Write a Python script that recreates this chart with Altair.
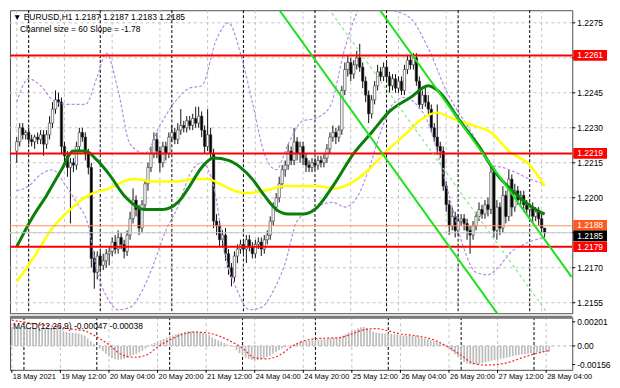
import altair as alt
import pandas as pd

# ---------------- data (prices in pips above 1.2000: 225 -> 1.2225) ----------------
first_open = 220
closes = [224, 230, 227, 228, 225, 224, 226, 225, 227, 223,
          227, 232, 238, 242, 241,
          222,
          218, 213, 215,
          214, 222, 228,
          226, 219, 213,
          174,
          168, 175, 171, 173, 176,
          177, 181, 178, 183, 180, 177, 184,
          191, 199, 195, 187,
          197, 206, 213, 219,
          225, 220, 215, 222, 219,
          226, 228, 225, 229, 231,
          230, 233, 231, 234, 232, 235,
          229, 222, 227, 219,
          190,
          188, 182, 184, 176, 170, 166,
          175, 178, 180, 178, 182, 179, 176, 180, 181, 178, 182, 184,
          190, 196, 200,
          206, 212, 214,
          220, 216, 224, 219, 222, 217, 214,
          213, 215, 214, 216, 215, 217,
          221, 226, 228, 226, 229,
          246,
          255, 258, 253, 257, 260, 256,
          250, 244, 236, 242,
          248, 254, 252, 256,
          252, 248, 251, 247, 250, 246,
          255, 259, 257, 260,
          250, 240, 244, 241, 238,
          230, 226, 222, 220,
          205, 197,
          188, 192, 186, 190, 191, 189,
          186, 184, 188,
          192, 195, 193, 197, 195,
          211, 186,
          196, 187, 201, 192, 208,
          196, 203, 199, 201,
          197, 195, 196, 192, 194, 191,
          187, 185]
upper_wick = [2, 2, 2, 1, 2, 2, 1, 2, 2, 2,
              2, 3, 3, 4, 3,
              2,
              2, 2, 2,
              2, 2, 2,
              2, 2, 2,
              2,
              3, 2, 2, 3, 2,
              2, 2, 3, 3, 2, 2, 2,
              3, 5, 2, 2,
              2, 2, 2, 3,
              3, 3, 2, 2, 2,
              2, 3, 2, 3, 7,
              2, 2, 2, 2, 5, 4,
              2, 2, 11, 3,
              2,
              3, 2, 2, 3, 2, 2,
              2, 2, 2, 2, 2, 2, 2, 2, 2, 2, 2, 2,
              2, 2, 2,
              3, 2, 2,
              3, 2, 6, 2, 2, 2, 2,
              2, 2, 2, 2, 2, 2,
              2, 2, 3, 2, 2,
              2,
              3, 3, 2, 2, 3, 6,
              2, 2, 2, 2,
              2, 3, 2, 2,
              2, 2, 2, 2, 2, 2,
              2, 2, 2, 2,
              2, 2, 2, 3, 3,
              2, 2, 14, 2,
              2, 2,
              2, 4, 2, 3, 2, 2,
              2, 2, 2,
              2, 3, 2, 2, 3,
              3, 2,
              3, 2, 4, 2, 4,
              2, 3, 2, 2,
              2, 2, 2, 2, 2, 2,
              2, 0]
lower_wick = [5, 2, 2, 2, 2, 2, 3, 2, 2, 5,
              2, 2, 2, 2, 2,
              3,
              4, 4, 24,
              3, 2, 2,
              2, 3, 3,
              4,
              7, 3, 3, 2, 3,
              5, 2, 2, 2, 2, 3, 2,
              2, 2, 3, 3,
              2, 2, 3, 2,
              2, 3, 4, 2, 3,
              2, 2, 2, 2, 2,
              2, 2, 2, 2, 2, 2,
              3, 3, 2, 2,
              3,
              4, 3, 3, 3, 3, 4,
              2, 3, 2, 2, 6, 2, 2, 2, 2, 3, 2, 2,
              2, 2, 2,
              2, 2, 3,
              2, 2, 2, 3, 4, 3, 3,
              2, 2, 2, 2, 2, 2,
              2, 2, 2, 3, 2,
              2,
              2, 3, 3, 2, 2, 2,
              3, 3, 4, 2,
              2, 2, 2, 2,
              2, 3, 2, 2, 2, 2,
              2, 2, 2, 2,
              2, 2, 2, 2, 3,
              2, 2, 3, 3,
              2, 3,
              4, 2, 3, 2, 2, 3,
              4, 8, 2,
              2, 2, 2, 2, 3,
              2, 3,
              4, 3, 2, 3, 2,
              4, 2, 2, 2,
              3, 2, 2, 3, 2, 3,
              2, 2]

green_idx = [0, 5, 10, 15, 19, 23, 27, 31, 36, 43, 49, 54, 58, 62, 66, 71, 75, 79, 83, 87,
             91, 96, 100, 106, 113, 119, 125, 132, 138, 142, 148, 155, 161, 167, 174, 177]
green_val = [179, 191, 201, 212, 220, 220, 216, 210, 201, 195, 195, 198, 205, 213, 217, 216, 213, 208, 201, 195,
             193, 193, 195, 205, 219, 228, 237, 243, 248, 245, 234, 222, 210, 202, 195, 193]
yellow_idx = [0, 5, 12, 18, 24, 31, 39, 46, 54, 59, 64, 68, 73, 77, 83, 90, 96, 100, 107, 113,
              118, 124, 131, 136, 141, 146, 153, 159, 165, 172, 177]
yellow_val = [164, 173, 187, 195, 201, 204, 208, 207, 207, 208, 208, 206, 203, 202, 203, 205, 205, 205, 204, 207,
              212, 220, 228, 234, 236.5, 234, 231, 228, 220, 214, 205]

up_idx = [0, 4, 8, 13, 18, 23, 27, 30, 34, 38, 43, 48, 53, 58, 62, 67, 71, 75, 79, 83, 87, 91, 96,
          100, 105, 110, 114, 119, 125, 132, 138, 144, 153, 159, 163, 167, 172, 177]
up_val = [241, 251, 248, 241, 240, 240, 252, 262, 246, 223, 219, 231, 241, 247, 248, 268, 275, 262,
          241, 219, 212, 223, 233, 234, 239, 264, 279, 285, 281, 277, 264, 246, 227, 214, 213, 211,
          208, 206]
lo_idx = [0, 4, 8, 12, 16, 20, 24, 27, 30, 34, 38, 42, 46, 50, 54, 58, 62, 66, 70, 74, 78, 82, 86,
          90, 94, 98, 102, 106, 110, 114, 118, 122, 126, 130, 134, 138, 142, 146, 150, 154, 158,
          162, 166, 170, 174, 177]
lo_val = [203, 205, 210, 212, 206, 198, 188, 168, 158, 152, 153, 160, 172, 186, 196, 210, 215, 205,
          175, 160, 152, 153, 160, 172, 190, 194, 197, 198, 196, 200, 212, 228, 240, 243, 240, 232,
          215, 196, 178, 168, 167, 171, 177, 180, 182, 183]

channel_idx = [80, 186]
channel_lower = [294.8, 106.1]
channel_mid = [324.8, 136.1]
channel_upper = [354.8, 166.1]

red_levels = [261, 219, 179]
orange_level = 188
bid_level = 185

# MACD in 1e-5 units
macd_hist = [158, 158, 157, 156, 154, 152, 150, 148, 146, 143, 142, 144, 148, 152, 154, 145,
             135, 124, 116, 110, 108, 108, 104, 96, 86, 62, 38, 18, 2,
             -20, -45, -68, -88, -103, -112, -115, -114, -110, -100, -85, -74, -66, -55, -40, -22, -5,
             12, 25, 35, 48, 58, 70, 80, 88, 96, 104, 110, 116, 120, 122,
             122, 120, 116, 108, 102, 92, 72, 58, 46, 36, 24, 12, 2, -8,
             -35, -60, -80, -98, -110, -118, -122, -120, -112, -102, -92, -80, -64, -50, -36, -22, -12, -4, 4,
             14, 24, 32, 38, 42, 45, 48, 50, 52, 54, 55, 58, 62, 66, 70, 74, 86, 98,
             112, 124, 134, 145, 155,
             158, 150, 135, 118, 110, 108, 106, 105, 104, 102, 98, 94, 90, 86, 84, 84, 83, 82, 78, 70,
             62, 55, 46, 38, 30, 22, 14, 4,
             -18, -45, -70, -95, -118, -135, -148, -155, -158, -156,
             -150, -143, -137, -130, -124, -120, -114, -108, -104, -98, -92, -86, -80, -76, -72, -70,
             -66, -62, -60, -56, -54, -52, -50, -47]
signal_idx = [0, 5, 10, 15, 20, 24, 28, 32, 36, 40, 44, 48, 52, 56, 60, 64, 68, 72, 76, 80, 84, 88,
              92, 96, 100, 104, 108, 112, 116, 120, 124, 128, 132, 136, 140, 144, 148, 152, 156, 160,
              164, 168, 172, 176, 177]
signal_val = [215, 195, 175, 160, 140, 125, 75, 10, -70, -95, -80, -10, 50, 95, 115, 110, 85, 40, -20,
              -100, -108, -80, -10, 40, 60, 65, 70, 100, 135, 145, 125, 100, 88, 72, 40, -14, -80, -145,
              -160, -155, -135, -100, -68, -44, -38]

x_ticks = [0, 16, 32, 48, 64, 80, 96, 112, 128, 144, 160, 176]
x_labels = ["18 May 2021", "19 May 12:00", "20 May 04:00", "20 May 20:00", "21 May 12:00",
            "24 May 04:00", "24 May 20:00", "25 May 12:00", "26 May 04:00", "26 May 20:00",
            "27 May 12:00", "28 May 04:00"]
day_sep = [4, 28, 52, 76, 100, 124, 148, 172]
y_grid = [155, 170, 185, 200, 215, 230, 245, 260, 275]
y_labeled = [155, 170, 200, 215, 230, 245, 275]
macd_ticks = [0.00201, 0.0, -0.00156]
macd_tick_labels = ["0.00201", "0.00", "-0.00156"]

title_line1 = "\u25bc EURUSD,H1  1.2187 1.2187 1.2183 1.2185"
title_line2 = "Channel size = 60 Slope = -1.78"
macd_title = "MACD(12,26,9) -0.00047 -0.00038"

# ---------------- build tables ----------------
def P(v):
    return round(1.2 + v / 10000.0, 6)

assert len(closes) == len(upper_wick) == len(lower_wick) == len(macd_hist)
opens = [first_open] + closes[:-1]
rows = []
for i, (o, c) in enumerate(zip(opens, closes)):
    rows.append(dict(idx=i, open=P(o), close=P(c),
                     high=P(max(o, c) + upper_wick[i]), low=P(min(o, c) - lower_wick[i]),
                     dir="up" if c >= o else "down"))
cdf = pd.DataFrame(rows)

W, H1, H2 = 566, 305, 53
FONT = "Liberation Sans"
FS = 8.5
FSX = 7.5
GRID = "#c4c4c4"

xs = alt.Scale(domain=[-0.6, 184.6], nice=False, zero=False)
ys = alt.Scale(domain=[1.21505, 1.22804], nice=False, zero=False)
ms = alt.Scale(domain=[-0.0020, 0.0024], nice=False, zero=False)
xn = alt.X("idx:Q", scale=xs, axis=None)


def yp(field):
    return alt.Y(field, scale=ys, axis=None)


def ym(field):
    return alt.Y(field, scale=ms, axis=None)


xt_df = pd.DataFrame({"idx": x_ticks, "t": x_labels})
sep_df = pd.DataFrame({"idx": day_sep})

# grid
vgrid = alt.Chart(xt_df).mark_rule(color=GRID, strokeDash=[3, 3], strokeWidth=1).encode(x=xn)
hg_df = pd.DataFrame({"p": [P(v) for v in y_grid]})
hgrid = alt.Chart(hg_df).mark_rule(color=GRID, strokeDash=[3, 3], strokeWidth=1).encode(y=yp("p:Q"))
ytick = alt.Chart(hg_df).mark_rule(color="#000000", strokeWidth=1).encode(
    x=alt.value(W), x2=alt.value(W + 3), y=yp("p:Q"))
yl_df = pd.DataFrame({"p": [P(v) for v in y_labeled], "t": ["%.4f" % P(v) for v in y_labeled]})
ylab = alt.Chart(yl_df).mark_text(align="left", baseline="middle", font=FONT, fontSize=FS,
                                  color="#000000").encode(
    x=alt.value(W + 5), y=yp("p:Q"), text="t:N")

wicks = alt.Chart(cdf).mark_rule(color="#111111", strokeWidth=1).encode(
    x=xn, y=yp("low:Q"), y2="high:Q")
bodies = alt.Chart(cdf).mark_bar(size=2.4, stroke="#333333", strokeWidth=0.6).encode(
    x=xn, y=yp("open:Q"), y2="close:Q",
    color=alt.Color("dir:N", scale=alt.Scale(domain=["up", "down"], range=["#ffffff", "#000000"]),
                    legend=None),
)
seps = alt.Chart(sep_df).mark_rule(color="#000000", strokeDash=[3, 2], strokeWidth=1).encode(x=xn)

band_df = pd.DataFrame(
    [dict(idx=i, v=P(u), b="up") for i, u in zip(up_idx, up_val)]
    + [dict(idx=i, v=P(l), b="lo") for i, l in zip(lo_idx, lo_val)])
bands = alt.Chart(band_df).mark_line(color="#b98ae4", strokeDash=[3, 2], strokeWidth=1.2,
                                     clip=True, interpolate="monotone").encode(
    x=xn, y=yp("v:Q"), detail="b:N")

yel_df = pd.DataFrame({"idx": yellow_idx, "v": [P(v) for v in yellow_val]})
yel = alt.Chart(yel_df).mark_line(color="#ffff00", strokeWidth=2.5, interpolate="monotone").encode(
    x=xn, y=yp("v:Q"))
grn_df = pd.DataFrame({"idx": green_idx, "v": [P(v) for v in green_val]})
grn = alt.Chart(grn_df).mark_line(color="#0a7f0a", strokeWidth=3, interpolate="monotone").encode(
    x=xn, y=yp("v:Q"))

ch_df = pd.DataFrame(
    [dict(idx=i, v=P(v), l="lo") for i, v in zip(channel_idx, channel_lower)]
    + [dict(idx=i, v=P(v), l="up") for i, v in zip(channel_idx, channel_upper)])
chan = alt.Chart(ch_df).mark_line(color="#1ee21e", strokeWidth=2, clip=True).encode(
    x=xn, y=yp("v:Q"), detail="l:N")
mid_df = pd.DataFrame({"idx": channel_idx, "v": [P(v) for v in channel_mid]})
chmid = alt.Chart(mid_df).mark_line(color="#8eea8e", strokeWidth=1.3, strokeDash=[3, 3],
                                    clip=True).encode(x=xn, y=yp("v:Q"))

hl_df = pd.DataFrame(
    [dict(p=P(v), c="#ff0000", w=2) for v in red_levels]
    + [dict(p=P(orange_level), c="#ff9060", w=1.2), dict(p=P(bid_level), c="#c8c8c8", w=1)])
hlines = alt.Chart(hl_df).mark_rule().encode(
    y=yp("p:Q"), color=alt.Color("c:N", scale=None),
    strokeWidth=alt.StrokeWidth("w:Q", scale=None))

tag_df = pd.DataFrame([
    dict(p=P(261), t="1.2261", bg="#ff0000", fg="#ffffff"),
    dict(p=P(219), t="1.2219", bg="#ff0000", fg="#ffffff"),
    dict(p=P(188.2), t="1.2188", bg="#ff5a1e", fg="#ffffff"),
    dict(p=P(183.7), t="1.2185", bg="#000000", fg="#ffffff"),
    dict(p=P(179), t="1.2179", bg="#ff0000", fg="#ffffff"),
])
tag_df["top"] = tag_df["p"] + 0.00023
tag_df["bot"] = tag_df["p"] - 0.00023
tag_box = alt.Chart(tag_df).mark_rect(clip=False).encode(
    x=alt.value(W + 1), x2=alt.value(W + 35), y=yp("top:Q"), y2="bot:Q",
    color=alt.Color("bg:N", scale=None))
tag_txt = alt.Chart(tag_df).mark_text(align="left", baseline="middle", font=FONT,
                                      fontSize=FS).encode(
    x=alt.value(W + 5), y=yp("p:Q"), text="t:N", color=alt.Color("fg:N", scale=None))

t_df = pd.DataFrame({"t": [title_line1, title_line2], "yy": [7, 19], "xx": [3, 10]})
titles = alt.Chart(t_df).mark_text(align="left", baseline="middle", font=FONT, fontSize=FS,
                                   color="#000000").encode(
    x=alt.X("xx:Q", scale=None, axis=None), y=alt.Y("yy:Q", scale=None, axis=None), text="t:N")

main = alt.layer(vgrid, hgrid, seps, wicks, bodies, bands, yel, grn, hlines, chan, chmid,
                 ytick, ylab, tag_box, tag_txt, titles).properties(width=W, height=H1)

# ---------------- MACD panel ----------------
mdf = pd.DataFrame({"idx": list(range(len(macd_hist))), "v": [v / 100000.0 for v in macd_hist],
                    "zero": 0.0})
mvgrid = alt.Chart(xt_df).mark_rule(color=GRID, strokeDash=[3, 3], strokeWidth=1).encode(x=xn)
hist = alt.Chart(mdf).mark_rule(color="#bcbcbc", strokeWidth=1.7).encode(
    x=xn, y=ym("v:Q"), y2="zero:Q")
zero_df = pd.DataFrame({"v": [0.0]})
zline = alt.Chart(zero_df).mark_rule(color="#b0b0b0", strokeDash=[3, 3], strokeWidth=1).encode(
    y=ym("v:Q"))
sig_df = pd.DataFrame({"idx": signal_idx, "v": [v / 100000.0 for v in signal_val]})
sig = alt.Chart(sig_df).mark_line(color="#ff2020", strokeDash=[2, 2], strokeWidth=1.2,
                                  interpolate="monotone").encode(x=xn, y=ym("v:Q"))
mseps = alt.Chart(sep_df).mark_rule(color="#000000", strokeDash=[3, 2], strokeWidth=1).encode(x=xn)
topbar = alt.Chart(zero_df).mark_rule(color="#7a7a7a", strokeWidth=3).encode(
    x=alt.value(0), x2=alt.value(W), y=alt.value(0))
m_t_df = pd.DataFrame({"t": [macd_title]})
mtitle = alt.Chart(m_t_df).mark_text(align="left", baseline="middle", font=FONT, fontSize=FS,
                                     color="#000000").encode(
    x=alt.value(3), y=alt.value(9), text="t:N")
mt_df = pd.DataFrame({"v": macd_ticks, "t": macd_tick_labels})
mytick = alt.Chart(mt_df).mark_rule(color="#000000", strokeWidth=1).encode(
    x=alt.value(W), x2=alt.value(W + 3), y=ym("v:Q"))
mylab = alt.Chart(mt_df).mark_text(align="left", baseline="middle", font=FONT, fontSize=FS,
                                   color="#000000").encode(
    x=alt.value(W + 5), y=ym("v:Q"), text="t:N")
xtick = alt.Chart(xt_df).mark_rule(color="#000000", strokeWidth=1).encode(
    x=xn, y=alt.value(H2), y2=alt.value(H2 + 3))
xlab = alt.Chart(xt_df).mark_text(align="left", baseline="top", font=FONT, fontSize=FSX,
                                  color="#000000", dx=1).encode(
    x=xn, y=alt.value(H2 + 3), text="t:N")

macd = alt.layer(mvgrid, zline, mseps, hist, sig, topbar, mtitle, mytick, mylab, xtick,
                 xlab).properties(width=W, height=H2)

chart = alt.vconcat(main, macd, spacing=1).properties(padding=0, background="#ffffff")
chart = chart.configure_view(stroke="#505050", strokeWidth=1)

chart.save("out.html", embed_options={"renderer": "svg", "actions": False})
